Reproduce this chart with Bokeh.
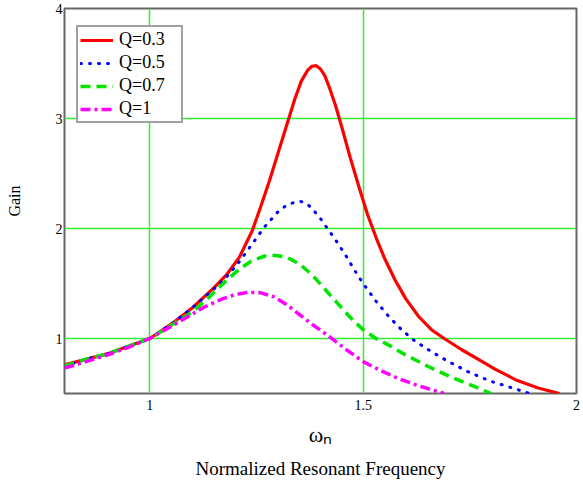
from bokeh.plotting import figure
from bokeh.models import Legend, LegendItem, FixedTicker, LinearAxis
from bokeh.embed import file_html
from bokeh.resources import INLINE

# ---- data ----
x_q03 = [0.80, 0.85, 0.90, 0.95, 1.00, 1.05, 1.10, 1.15, 1.18, 1.21, 1.24, 1.26, 1.28, 1.30, 1.32,
         1.34, 1.355, 1.37, 1.38, 1.39, 1.40, 1.41, 1.42, 1.435, 1.45, 1.47, 1.49, 1.51, 1.53, 1.55,
         1.575, 1.60, 1.63, 1.66, 1.69, 1.73, 1.77, 1.81, 1.86, 1.91, 1.96]
y_q03 = [0.76, 0.81, 0.86, 0.93, 1.00, 1.13, 1.28, 1.46, 1.58, 1.74, 1.98, 2.20, 2.43, 2.68, 2.93,
         3.18, 3.34, 3.44, 3.475, 3.48, 3.45, 3.39, 3.29, 3.12, 2.92, 2.64, 2.38, 2.13, 1.92, 1.73,
         1.53, 1.36, 1.20, 1.08, 1.00, 0.90, 0.81, 0.72, 0.62, 0.55, 0.50]

x_q05 = [0.80, 0.85, 0.90, 0.95, 1.00, 1.05, 1.10, 1.15, 1.18, 1.21, 1.24, 1.27, 1.30, 1.32, 1.34,
         1.355, 1.37, 1.385, 1.40, 1.42, 1.44, 1.46, 1.48, 1.50, 1.53, 1.56, 1.59, 1.62, 1.66, 1.70,
         1.75, 1.80, 1.85, 1.89]
y_q05 = [0.75, 0.81, 0.86, 0.93, 1.00, 1.13, 1.28, 1.45, 1.56, 1.70, 1.86, 2.02, 2.15, 2.21, 2.24,
         2.245, 2.22, 2.16, 2.09, 1.98, 1.87, 1.75, 1.62, 1.50, 1.34, 1.20, 1.08, 0.98, 0.88, 0.79,
         0.69, 0.61, 0.55, 0.50]

x_q07 = [0.80, 0.85, 0.90, 0.95, 1.00, 1.05, 1.10, 1.14, 1.18, 1.21, 1.24, 1.27, 1.295, 1.32, 1.35,
         1.38, 1.41, 1.44, 1.47, 1.50, 1.53, 1.56, 1.60, 1.65, 1.70, 1.75, 1.80]
y_q07 = [0.75, 0.81, 0.86, 0.93, 1.00, 1.12, 1.24, 1.38, 1.53, 1.63, 1.71, 1.75, 1.755, 1.74, 1.68,
         1.58, 1.45, 1.32, 1.19, 1.08, 1.00, 0.94, 0.85, 0.75, 0.66, 0.58, 0.50]

x_q1 = [0.80, 0.85, 0.90, 0.95, 1.00, 1.05, 1.09, 1.13, 1.17, 1.20, 1.23, 1.26, 1.29, 1.32, 1.35,
        1.38, 1.42, 1.46, 1.50, 1.54, 1.58, 1.63, 1.69]
y_q1 = [0.73, 0.79, 0.85, 0.92, 1.00, 1.11, 1.20, 1.29, 1.36, 1.40, 1.42, 1.415, 1.38, 1.31, 1.22,
        1.13, 1.02, 0.90, 0.79, 0.71, 0.64, 0.57, 0.50]

series_names = ["Q=0.3", "Q=0.5", "Q=0.7", "Q=1"]

x_tick_values = [1, 1.5, 2]
x_tick_labels = ["1", "1.5", "2"]
y_tick_values = [1, 2, 3, 4]
y_tick_labels = ["1", "2", "3", "4"]

x_symbol = "ωₙ"
x_title = "Normalized Resonant Frequency"
y_title = "Gain"

SERIF = "Liberation Serif"

p = figure(width=583, height=483, output_backend="svg", toolbar_location=None,
           x_range=(0.8, 2.0), y_range=(0.5, 4.0),
           min_border_left=64, min_border_right=7, min_border_top=8, min_border_bottom=90)
p.frame_width = 512
p.frame_height = 385

p.outline_line_color = "#666666"
p.outline_line_width = 2
p.background_fill_color = "white"
p.border_fill_color = "white"


def style_axis(ax):
    ax.axis_line_color = None
    ax.major_tick_in = 0
    ax.major_tick_out = 0
    ax.minor_tick_in = 0
    ax.minor_tick_out = 0
    ax.major_label_text_font = SERIF
    ax.major_label_text_font_size = "14px"
    ax.major_label_text_color = "black"
    ax.axis_label_text_font = SERIF
    ax.axis_label_text_font_style = "normal"
    ax.axis_label_text_color = "black"


xax = p.xaxis[0]
yax = p.yaxis[0]
style_axis(xax)
style_axis(yax)

xax.ticker = FixedTicker(ticks=x_tick_values)
yax.ticker = FixedTicker(ticks=y_tick_values)
xax.major_label_overrides = {v: s for v, s in zip(x_tick_values, x_tick_labels)}
yax.major_label_overrides = {v: s for v, s in zip(y_tick_values, y_tick_labels)}
xax.major_label_standoff = 6
yax.major_label_standoff = 2
xax.axis_label = x_symbol
xax.axis_label_text_font_size = "22px"
xax.axis_label_standoff = 9
yax.axis_label = y_title
yax.axis_label_text_font_size = "16px"
yax.axis_label_standoff = 30

# second axis below carrying the descriptive title
xax2 = LinearAxis(ticker=FixedTicker(ticks=[]))
style_axis(xax2)
xax2.major_label_standoff = 0
xax2.axis_label = x_title
xax2.axis_label_text_font_size = "19px"
xax2.axis_label_standoff = 8
p.add_layout(xax2, "below")

# grid
p.xgrid.ticker = FixedTicker(ticks=x_tick_values)
p.ygrid.ticker = FixedTicker(ticks=y_tick_values)
p.grid.grid_line_color = "#33ee33"
p.grid.grid_line_width = 1.5

r1 = p.line(x_q03, y_q03, line_color="#ff0000", line_width=3.2)
r2 = p.line(x_q05, y_q05, line_color="#0000ff", line_width=3, line_dash="1 8", line_cap="round")
r3 = p.line(x_q07, y_q07, line_color="#00e600", line_width=3.5, line_dash="10 6")
r4 = p.line(x_q1, y_q1, line_color="#ff00ff", line_width=3.5, line_dash="10 4 3 4")

legend = Legend(items=[LegendItem(label=n, renderers=[r]) for n, r in zip(series_names, [r1, r2, r3, r4])],
                location=(12, 270), orientation="vertical",
                label_text_font=SERIF, label_text_font_size="18px", label_text_color="black",
                glyph_width=33, glyph_height=18, label_height=18, label_width=60,
                label_standoff=6, spacing=2, padding=2, margin=0,
                border_line_color="#444444", border_line_width=2,
                background_fill_color="white", background_fill_alpha=1.0)
p.add_layout(legend, "center")

open("out.html", "w").write(file_html(p, INLINE))
